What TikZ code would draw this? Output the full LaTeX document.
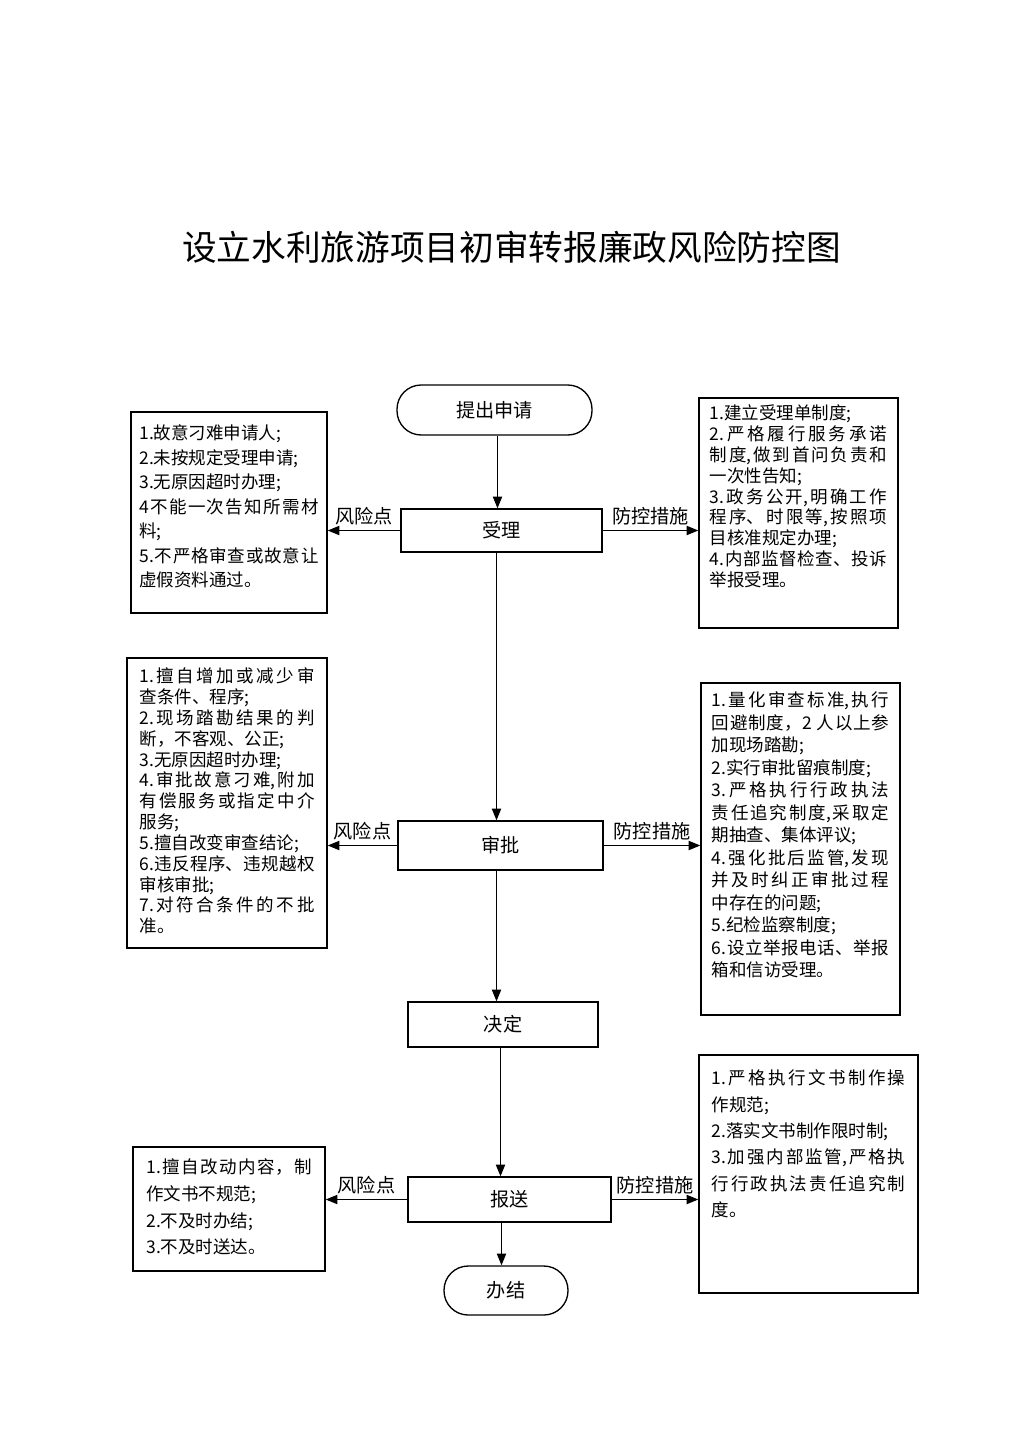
\documentclass[tikz,border=0pt]{standalone}
\usepackage{fontspec}
\setmainfont{Noto Sans CJK SC}
\usetikzlibrary{arrows.meta}
\XeTeXlinebreaklocale "zh"
\XeTeXlinebreakskip=0pt plus 2pt

\newcommand{\notetext}[4]{\parbox[c][#2][t]{#1}{\fontsize{10.5pt}{#3}\selectfont #4}}

\begin{document}
\begin{tikzpicture}[x=0.6pt,y=-0.6pt,
	every node/.style={font=\fontsize{11.5pt}{13pt}\selectfont},
	stepbox/.style={draw,line width=0.8pt,inner sep=0pt},
	endbox/.style={draw,line width=0.8pt,inner sep=0pt,rounded corners=14.5pt},
	notebox/.style={draw,line width=0.8pt},
	flow/.style={line width=0.8pt,-{Triangle[length=7pt,width=5.5pt]}},
	tag/.style={above,inner sep=3pt}]
	\useasboundingbox (0,0) rectangle (1024,1449);

	\node[font=\fontsize{20.8pt}{23pt}\selectfont] (title) at (511.5,247) {设立水利旅游项目初审转报廉政风险防控图};

	\node[endbox,minimum width=117pt,minimum height=30pt] (apply) at (494.5,410) {提出申请};
	\node[stepbox,minimum width=120.6pt,minimum height=25.8pt] (accept) at (501.5,530.5) {受理};
	\node[stepbox,minimum width=123pt,minimum height=29.4pt] (audit) at (500.5,845.5) {审批};
	\node[stepbox,minimum width=114pt,minimum height=27pt] (decide) at (503,1024.5) {决定};
	\node[stepbox,minimum width=121.8pt,minimum height=27pt] (report) at (509.5,1199.5) {报送};
	\node[endbox,minimum width=74.4pt,minimum height=29.4pt] (finish) at (506,1290.5) {办结};

	\node[notebox,inner xsep=5pt,inner ysep=7.8pt] (risk1) at (229,512.5) {\notetext{107.6pt}{105pt}{14.7pt}{%
		1.故意刁难申请人;\\
		2.未按规定受理申请;\\
		3.无原因超时办理;\\
		4不能一次告知所需材\linebreak
		料;\\
		5.不严格审查或故意让\linebreak
		虚假资料通过。}};
	\node[notebox,inner xsep=6.5pt,inner ysep=4.2pt] (measure1) at (798.5,513) {\notetext{106.4pt}{129.6pt}{12.5pt}{%
		1.建立受理单制度;\\
		2.严格履行服务承诺\linebreak
		制度,做到首问负责和\linebreak
		一次性告知;\\
		3.政务公开,明确工作\linebreak
		程序、时限等,按照项\linebreak
		目核准规定办理;\\
		4.内部监督检查、投诉\linebreak
		举报受理。}};
	\node[notebox,inner xsep=7.5pt,inner ysep=6pt] (risk2) at (227,803) {\notetext{105pt}{162pt}{12.5pt}{%
		1.擅自增加或减少审\linebreak
		查条件、程序;\\
		2.现场踏勘结果的判\linebreak
		断，不客观、公正;\\
		3.无原因超时办理;\\
		4.审批故意刁难,附加\linebreak
		有偿服务或指定中介\linebreak
		服务;\\
		5.擅自改变审查结论;\\
		6.违反程序、违规越权\linebreak
		审核审批;\\
		7.对符合条件的不批\linebreak
		准。}};
	\node[notebox,inner xsep=6.5pt,inner ysep=5.4pt] (measure2) at (800.5,849) {\notetext{106.4pt}{188.4pt}{13.5pt}{%
		1.量化审查标准,执行\linebreak
		回避制度，2 人以上参\linebreak
		加现场踏勘;\\
		2.实行审批留痕制度;\\
		3.严格执行行政执法\linebreak
		责任追究制度,采取定\linebreak
		期抽查、集体评议;\\
		4.强化批后监管,发现\linebreak
		并及时纠正审批过程\linebreak
		中存在的问题;\\
		5.纪检监察制度;\\
		6.设立举报电话、举报\linebreak
		箱和信访受理。}};
	\node[notebox,inner xsep=8pt,inner ysep=7.2pt] (risk3) at (229,1209) {\notetext{99.2pt}{60pt}{16pt}{%
		1.擅自改动内容，制\linebreak
		作文书不规范;\\
		2.不及时办结;\\
		3.不及时送达。}};
	\node[notebox,inner xsep=7.5pt,inner ysep=9pt] (measure3) at (808.5,1174) {\notetext{116.4pt}{124.8pt}{15.8pt}{%
		1.严格执行文书制作操\linebreak
		作规范;\\
		2.落实文书制作限时制;\\
		3.加强内部监管,严格执\linebreak
		行行政执法责任追究制\linebreak
		度。}};

	\coordinate (axisA) at (497.5,0);
	\coordinate (axisB) at (496.5,0);
	\coordinate (axisC) at (500.5,0);
	\coordinate (axisD) at (501.5,0);

	\draw[flow] (apply.south -| axisA) -- (accept.north -| axisA);
	\draw[flow] (accept.south -| axisB) -- (audit.north -| axisB);
	\draw[flow] (audit.south -| axisB) -- (decide.north -| axisB);
	\draw[flow] (decide.south -| axisC) -- (report.north -| axisC);
	\draw[flow] (report.south -| axisD) -- (finish.north -| axisD);

	\draw[flow] (accept.west) -- (accept.west -| risk1.east) node[tag,midway] {风险点};
	\draw[flow] (accept.east) -- (accept.east -| measure1.west) node[tag,midway] {防控措施};
	\draw[flow] (audit.west) -- (audit.west -| risk2.east) node[tag,midway] {风险点};
	\draw[flow] (audit.east) -- (audit.east -| measure2.west) node[tag,midway] {防控措施};
	\draw[flow] (report.west) -- (report.west -| risk3.east) node[tag,midway] {风险点};
	\draw[flow] (report.east) -- (report.east -| measure3.west) node[tag,midway] {防控措施};
\end{tikzpicture}
\end{document}
